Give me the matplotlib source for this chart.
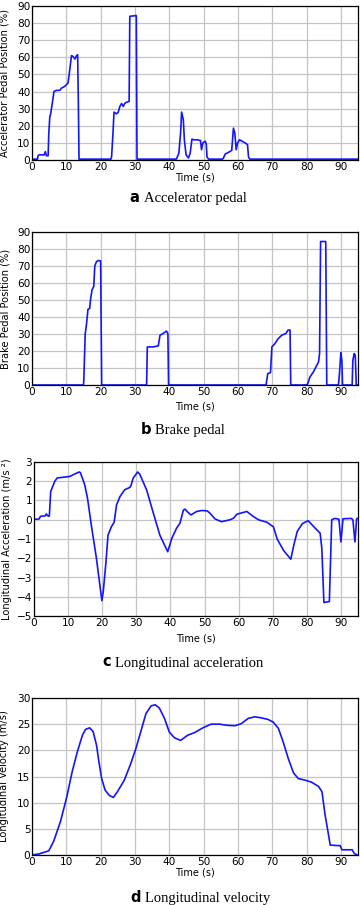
import matplotlib
matplotlib.use("Agg")
import matplotlib.pyplot as plt
from matplotlib.offsetbox import TextArea, HPacker, AnnotationBbox

# ---------------- data ----------------
acc_t = [0, 1.6, 1.75, 2.2, 3.5, 3.9, 4.2, 4.7, 4.9, 5.2, 5.4, 5.9, 6.4, 7.1, 8.1, 8.6,
         9.5, 10.0, 10.5, 11.0, 11.5, 12.0, 12.5, 13.0, 13.3, 13.5, 13.7, 23.0, 23.2, 23.6,
         23.9, 24.6, 25.1, 25.6, 26.1, 26.6, 27.0, 27.5, 28.3, 28.5, 30.4, 30.6, 41.5,
         42.1, 42.8, 43.3, 43.6, 44.1, 44.4, 44.9, 45.6, 46.1, 46.6, 47.1, 48.1, 49.1,
         49.4, 49.8, 50.5, 50.8, 51.0, 51.5, 55.5, 55.8, 56.3, 56.8, 57.3, 58.2, 58.7,
         59.1, 59.5, 59.9, 60.5, 61.2, 62.1, 62.8, 63.1, 63.5, 95]
acc_v = [0.5, 0.5, 2.5, 3.1, 2.9, 4.9, 2.5, 2.5, 15.8, 25.5, 26.5, 33, 40, 40.7, 40.7, 42,
         43, 44, 45, 52.7, 61, 60.5, 59, 61, 61.5, 35, 0.5, 0.5, 2, 15.8,
         28, 27, 27.8, 31.3, 33, 31.3, 33, 33.7, 34.2, 84, 84.4, 0.5, 0.5,
         0.6, 4, 15.7, 28, 23.5, 11.8, 3, 1.2, 4, 12.2, 11.8, 11.8, 11.4,
         6, 10, 11, 9, 1.7, 0.5, 0.5, 1.2, 3.5, 4, 4.5, 5.6, 18.6,
         15.7, 6, 10, 11.8, 11, 10, 9, 1.7, 0.5, 0.5]

brk_t = [0, 15.0, 15.1, 15.5, 15.9, 16.3, 16.8, 17.1, 17.5, 18.0, 18.3, 18.8, 19.4, 20.0,
         20.3, 33.4, 33.6, 35.3, 36.8, 37.3, 38.2, 39.2, 39.6, 39.8, 68.2, 68.7, 69.5,
         69.9, 70.8, 71.8, 72.8, 74.0, 74.6, 75.2, 75.4, 79.8, 80.3, 81.0, 82.0, 83.0, 83.5,
         83.8, 84.1, 85.6, 85.9, 89.3, 89.6, 90.0, 90.3, 90.5, 93.3, 93.5, 93.9, 94.2,
         94.5, 95]
brk_v = [0, 0, 2.8, 30, 36, 44.5, 45, 51, 56, 58, 70, 72.6, 73.2, 73,
         0, 0, 22.4, 22.4, 23, 29.3, 30.3, 31.7, 30.3, 0, 0, 6.7, 7.3,
         22.4, 24.4, 27.4, 29.3, 30.3, 32.3, 32.3, 0, 0, 0.5, 4.7, 7.7, 11.6, 13.6,
         18.5, 84.4, 84.4, 0, 0, 6.7, 19, 14.6, 0, 0, 14.6, 18.5, 17.5,
         0, 0]

lon_t = [0, 1.5, 1.9, 3.3, 3.6, 4.2, 4.5, 4.9, 6.1, 6.8, 10.5, 11.5, 13.2, 13.6, 14.9,
         15.7, 16.8, 18.3, 19.9, 20.3, 21.1, 21.7, 22.7, 23.5, 24.2, 25.2, 26.6, 28.1,
         28.4, 29.1, 30.4, 31.0, 33.0, 35.0, 36.9, 39.2, 40.4, 41.8, 42.8, 43.8, 44.3,
         44.9, 46.0, 47.7, 49.2, 50.8, 51.6, 53.1, 55.0, 57.5, 58.5, 59.5, 61.0, 62.4,
         64.3, 65.8, 68.3, 70.2, 71.3, 73.2, 75.3, 76.2, 77.2, 78.7, 80.4, 81.7, 83.9,
         84.4, 85.0, 86.6, 87.3, 88.2, 89.4, 90.0, 90.6, 93.0, 93.5, 94.1, 94.6, 95]
lon_a = [0.02, 0.04, 0.18, 0.2, 0.3, 0.18, 0.2, 1.47, 2.0, 2.17, 2.25, 2.34, 2.48, 2.45, 1.8,
         1.1, -0.27, -2.0, -4.2, -3.75, -2.2, -0.8, -0.36, -0.13, 0.77, 1.2, 1.56, 1.68,
         1.76, 2.17, 2.48, 2.37, 1.56, 0.34, -0.8, -1.66, -0.97, -0.44, -0.18, 0.5, 0.55,
         0.43, 0.25, 0.43, 0.48, 0.46, 0.34, 0.04, -0.1, 0.0, 0.08, 0.29, 0.36, 0.43,
         0.17, 0.0, -0.13, -0.37, -1.0, -1.6, -2.05, -1.3, -0.6, -0.2, -0.05, -0.3, -0.7,
         -1.5, -4.3, -4.25, 0.0, 0.07, 0.03, -1.15, 0.05, 0.07, 0.0, -1.15, 0.05, 0.07]

vel_t = [0, 2, 4.9, 6.3, 8.3, 10.1, 11.7, 13.2, 14.7, 15.6, 16.8, 17.8, 18.8, 19.5, 20.3,
         21.3, 22.5, 23.7, 24.9, 26.9, 28.8, 30.3, 31.8, 33.2, 34.7, 35.9, 37.1, 38.6,
         40.0, 41.5, 43.3, 45.4, 47.4, 49.8, 52.2, 54.7, 56.6, 59.1, 61.0, 63.0, 64.9,
         66.9, 68.8, 70.3, 71.8, 73.2, 74.7, 76.2, 77.6, 79.6, 81.5, 83.5, 84.5, 85.4,
         86.4, 86.9, 88.9, 89.8, 90.3, 93.3, 93.9, 94.7, 95]
vel_v = [0, 0.2, 0.8, 2.6, 6.4, 11.0, 15.9, 19.7, 22.9, 24.0, 24.3, 23.6, 21.0, 17.8, 14.6,
         12.4, 11.4, 11.0, 12.1, 14.3, 17.5, 20.4, 23.8, 27.0, 28.5, 28.7, 28.1, 26.1,
         23.5, 22.4, 21.9, 22.9, 23.4, 24.3, 25.0, 25.0, 24.8, 24.7, 25.1, 26.1, 26.4,
         26.2, 25.9, 25.4, 24.2, 21.6, 18.4, 15.7, 14.6, 14.3, 13.9, 13.1, 12.1, 7.7,
         3.9, 1.9, 1.8, 1.8, 1.0, 1.0, 0.3, 0, 0]

x_ticks = [0, 10, 20, 30, 40, 50, 60, 70, 80, 90]

panels = [
    dict(t=acc_t, y=acc_v, ylabel="Accelerator Pedal Position (%)",
         ylim=(0, 90), yticks=list(range(0, 91, 10)), letter="a", caption="Accelerator pedal"),
    dict(t=brk_t, y=brk_v, ylabel="Brake Pedal Position (%)",
         ylim=(0, 90), yticks=list(range(0, 91, 10)), letter="b", caption="Brake pedal"),
    dict(t=lon_t, y=lon_a, ylabel="Longitudinal Acceleration (m/s \u00b2)",
         ylim=(-5, 3), yticks=list(range(-5, 4)), letter="c", caption="Longitudinal acceleration"),
    dict(t=vel_t, y=vel_v, ylabel="Longitudinal Velocity (m/s)",
         ylim=(0, 30), yticks=list(range(0, 31, 5)), letter="d", caption="Longitudinal velocity"),
]

# ---------------- layout (pixels) ----------------
W, H = 360, 905
boxes = [(32, 358, 6, 160), (32, 358, 232, 385), (34, 358, 462, 616), (32, 358, 698, 855)]
xlabel_y = [177, 406, 638, 872.5]
ylabel_x = [9.5, 10.5, 12, 9.5]
caption_y = [197, 429, 662, 897]
caption_x = [188, 183, 183, 200]

fig = plt.figure(figsize=(W / 100, H / 100), dpi=100)
fig.patch.set_facecolor("white")

for p, (l, r, t, b), xly, ylx, cy, cx in zip(panels, boxes, xlabel_y, ylabel_x, caption_y, caption_x):
    ax = fig.add_axes([l / W, 1 - b / H, (r - l) / W, (b - t) / H])
    ax.plot(p["t"], p["y"], color="#1414ff", lw=1.2)
    ax.set_xlim(0, 95)
    ax.set_ylim(*p["ylim"])
    ax.set_xticks(x_ticks)
    ax.set_yticks(p["yticks"])
    ax.grid(True, color="#c4c4c4", lw=0.9)
    ax.set_axisbelow(True)
    ax.tick_params(length=0, labelsize=7.6, pad=1.2)
    for s in ax.spines.values():
        s.set_color("black")
        s.set_linewidth(0.9)
    ax.set_ylabel(p["ylabel"], fontsize=7.1, labelpad=0)
    ax.yaxis.set_label_coords((ylx - l) / (r - l), 0.5)
    fig.text(((l + r) / 2) / W, 1 - xly / H, "Time (s)", ha="center", va="center", fontsize=7)

    ta1 = TextArea(p["letter"], textprops=dict(fontsize=10.5, fontweight="bold", family="DejaVu Sans"))
    ta2 = TextArea(p["caption"], textprops=dict(fontsize=10.5, family="Liberation Serif"))
    pack = HPacker(children=[ta1, ta2], pad=0, sep=3, align="baseline")
    ab = AnnotationBbox(pack, (cx / W, 1 - cy / H), xycoords="figure fraction",
                        frameon=False, box_alignment=(0.5, 0.5))
    fig.add_artist(ab)

fig.savefig("out.png", dpi=100)
